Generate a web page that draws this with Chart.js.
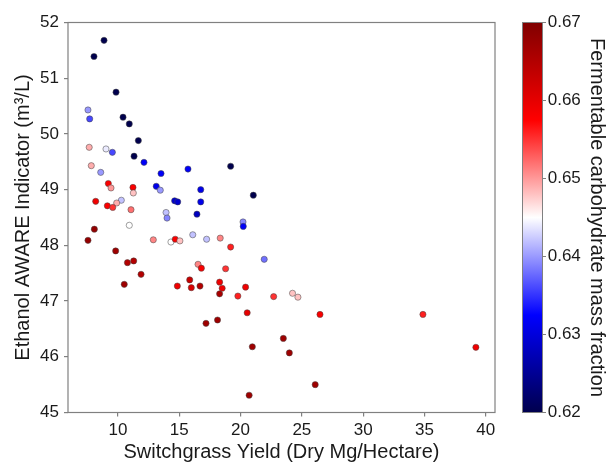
<!DOCTYPE html>
<html><head><meta charset="utf-8">
<script src="https://cdn.jsdelivr.net/npm/chart.js@4"></script>
<style>html,body{margin:0;padding:0;background:#fff;overflow:hidden}</style>
</head><body>
<canvas id="c" width="609" height="462"></canvas>
<script>
const yieldX = [8.86,8.04,9.84,7.55,7.69,10.41,10.92,11.66,7.65,9.02,9.54,11.31,12.12,7.82,8.59,13.51,15.71,19.19,13.12,13.45,9.21,9.43,11.22,11.25,16.75,21.04,8.18,14.62,14.87,16.75,10.27,9.89,9.13,9.57,11.06,13.92,14.00,16.44,20.20,20.22,10.92,8.07,7.55,9.81,10.77,11.28,11.88,10.51,12.88,14.32,14.67,15.05,16.10,17.23,18.34,19.19,21.93,16.53,16.80,18.78,14.84,15.85,15.98,16.69,18.29,18.50,18.29,19.78,20.41,20.54,17.18,18.12,20.96,22.70,23.49,23.98,20.70,24.24,24.68,26.48,34.88,39.20,26.09];
const awareY = [51.68,51.39,50.75,50.43,50.27,50.30,50.18,49.88,49.76,49.73,49.67,49.60,49.49,49.43,49.31,49.29,49.37,49.42,49.06,48.99,49.11,49.03,49.04,48.94,49.00,48.90,48.79,48.80,48.78,48.78,48.81,48.76,48.71,48.68,48.64,48.59,48.49,48.56,48.42,48.34,48.36,48.29,48.09,47.90,47.69,47.72,47.48,47.30,48.10,48.06,48.11,48.08,48.19,48.11,48.13,47.97,47.75,47.66,47.59,47.58,47.27,47.38,47.24,47.27,47.34,47.23,47.13,47.09,47.25,46.79,46.60,46.66,46.18,47.08,46.33,46.07,45.31,47.14,47.07,46.76,46.76,46.17,45.50];
const fraction = [0.620,0.620,0.620,0.640,0.636,0.620,0.620,0.620,0.649,0.644,0.636,0.620,0.632,0.649,0.640,0.632,0.632,0.620,0.631,0.640,0.658,0.650,0.658,0.648,0.631,0.620,0.659,0.629,0.629,0.631,0.642,0.649,0.658,0.655,0.652,0.642,0.639,0.628,0.639,0.632,0.645,0.668,0.668,0.667,0.665,0.665,0.665,0.667,0.651,0.645,0.658,0.648,0.642,0.642,0.651,0.656,0.638,0.651,0.658,0.655,0.659,0.663,0.661,0.665,0.659,0.659,0.666,0.656,0.659,0.660,0.667,0.667,0.667,0.655,0.667,0.667,0.667,0.648,0.648,0.658,0.656,0.659,0.667];
const xTickValues = [10,15,20,25,30,35,40];
const yTickValues = [45,46,47,48,49,50,51,52];
const cbTickValues = [0.62,0.63,0.64,0.65,0.66,0.67];
const xTitle = 'Switchgrass Yield (Dry Mg/Hectare)';
const yTitle = 'Ethanol AWARE Indicator (m³/L)';
const cbTitle = 'Fermentable carbohydrate mass fraction';
const cMin = 0.62, cMax = 0.67;

const FONT = '"Liberation Sans", Arial, sans-serif';
const TXT = '#1a1a1a';
const AX = '#808080';

const seismicStops = [[0,0,0,0.3],[0.25,0,0,1],[0.5,1,1,1],[0.75,1,0,0],[1,0.5,0,0]];
function seismic(v){
  let t = (v - cMin) / (cMax - cMin); t = Math.max(0, Math.min(1, t));
  for (let i = 0; i < 4; i++) {
    const a = seismicStops[i], b = seismicStops[i+1];
    if (t <= b[0]) {
      const f = (t - a[0]) / (b[0] - a[0]);
      const c = [1,2,3].map(k => Math.round(255 * (a[k] + (b[k] - a[k]) * f)));
      return 'rgb(' + c.join(',') + ')';
    }
  }
  return 'rgb(128,0,0)';
}

const decor = {
  id: 'decor',
  afterDraw(chart){
    const ctx = chart.ctx, ca = chart.chartArea, cb = chart.scales.cb;
    ctx.save();
    // plot frame
    ctx.strokeStyle = AX; ctx.lineWidth = 1.2;
    ctx.strokeRect(ca.left, ca.top, ca.right - ca.left, ca.bottom - ca.top);
    // colorbar
    const bx = 522.5, bw = 20;
    const top = cb.getPixelForValue(cMax), bot = cb.getPixelForValue(cMin);
    const g = ctx.createLinearGradient(0, bot, 0, top);
    seismicStops.forEach(s => g.addColorStop(s[0], seismic(cMin + s[0] * (cMax - cMin))));
    ctx.fillStyle = g;
    ctx.fillRect(bx, top, bw, bot - top);
    ctx.strokeStyle = AX; ctx.lineWidth = 1;
    ctx.strokeRect(bx, top, bw, bot - top);
    cbTickValues.forEach(v => {
      const y = cb.getPixelForValue(v);
      ctx.beginPath(); ctx.moveTo(bx + bw, y); ctx.lineTo(bx + bw + 3.5, y); ctx.stroke();
    });
    // titles
    ctx.fillStyle = TXT;
    ctx.font = '20px ' + FONT;
    ctx.textAlign = 'center'; ctx.textBaseline = 'alphabetic';
    ctx.fillText(xTitle, (ca.left + ca.right) / 2, 457.5);
    ctx.save();
    ctx.translate(28.5, (ca.top + ca.bottom) / 2); ctx.rotate(-Math.PI / 2);
    ctx.fillText(yTitle, 0, 0);
    ctx.restore();
    ctx.save();
    ctx.translate(590.5, (ca.top + ca.bottom) / 2); ctx.rotate(Math.PI / 2);
    ctx.fillText(cbTitle, 0, 0);
    ctx.restore();
    ctx.restore();
  }
};

const tickFont = {family: FONT, size: 17};
new Chart(document.getElementById('c').getContext('2d'), {
  type: 'scatter',
  data: {datasets: [{
    data: yieldX.map((x, i) => ({x: x, y: awareY[i]})),
    backgroundColor: fraction.map(seismic),
    borderColor: 'rgba(70,70,70,0.85)',
    borderWidth: 0.6,
    pointRadius: 3.1,
    pointHoverRadius: 3.1
  }]},
  options: {
    responsive: false, animation: false, devicePixelRatio: 1,
    layout: {padding: {top: 22.5, right: 0, bottom: 0, left: 0}},
    plugins: {legend: {display: false}, tooltip: {enabled: false}},
    scales: {
      x: {
        type: 'linear', position: 'bottom', min: 5.92, max: 40.76,
        afterBuildTicks: s => { s.ticks = xTickValues.map(v => ({value: v})); },
        afterFit: s => { s.height = 49.5; },
        grid: {drawOnChartArea: false, drawTicks: true, tickLength: 4, color: AX, lineWidth: 1.2},
        border: {display: false},
        ticks: {padding: 4, font: tickFont, color: TXT, maxRotation: 0, autoSkip: false, callback: v => String(v)}
      },
      y: {
        type: 'linear', position: 'left', min: 45, max: 52,
        afterBuildTicks: s => { s.ticks = yTickValues.map(v => ({value: v})); },
        afterFit: s => { s.width = 68; },
        grid: {drawOnChartArea: false, drawTicks: true, tickLength: 4, color: AX, lineWidth: 1.2},
        border: {display: false},
        ticks: {padding: 5, font: tickFont, color: TXT, autoSkip: false, callback: v => String(v)}
      },
      cb: {
        type: 'linear', position: 'right', min: cMin, max: cMax,
        afterBuildTicks: s => { s.ticks = cbTickValues.map(v => ({value: v})); },
        afterFit: s => { s.width = 114; },
        grid: {display: true, drawOnChartArea: false, drawTicks: true, tickLength: 48, color: 'rgba(0,0,0,0)'},
        border: {display: false},
        ticks: {padding: 4.7, font: tickFont, color: TXT, autoSkip: false, callback: v => Number(v).toFixed(2)}
      }
    }
  },
  plugins: [decor]
});
</script>
</body></html>
